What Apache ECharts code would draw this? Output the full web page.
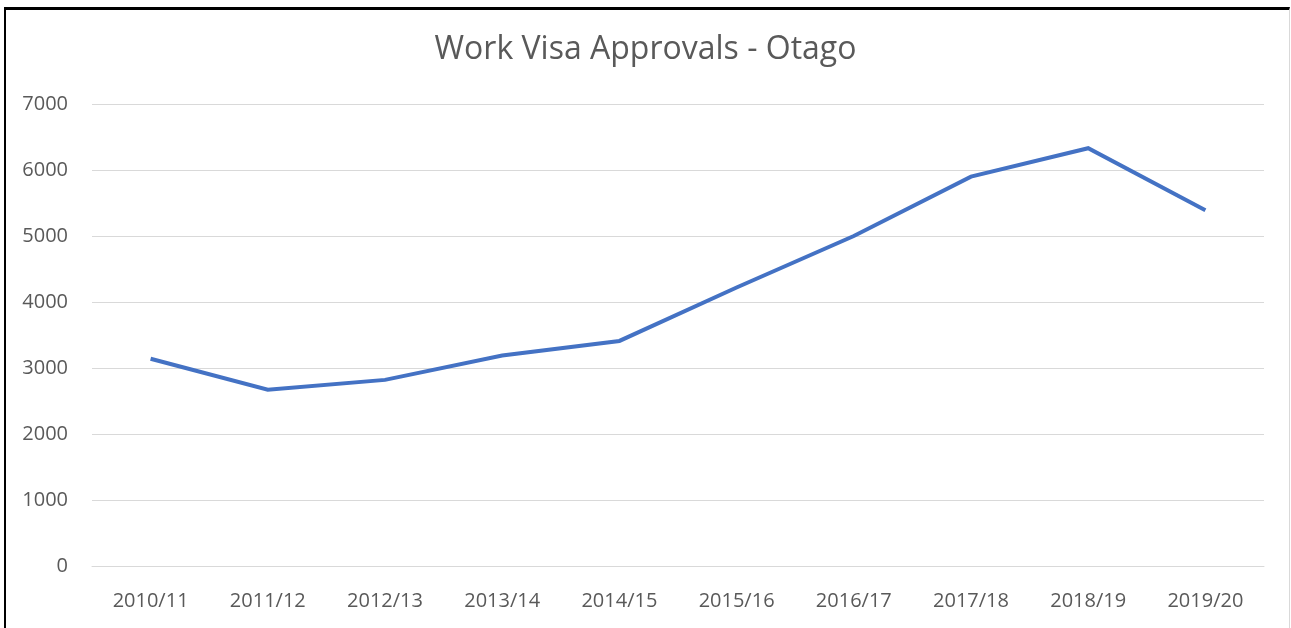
<!DOCTYPE html>
<html>
<head>
<meta charset="utf-8">
<script src="https://cdn.jsdelivr.net/npm/echarts@6/dist/echarts.min.js"></script>
<style>
  html, body { margin: 0; padding: 0; background: #fff; }
  #frame {
    position: absolute; left: 4px; top: 7px; width: 1283px; height: 640px;
    border-left: 2px solid #000; border-top: 3px solid #000; border-right: 1px solid #d9d9d9;
  }
  #root { position: absolute; left: 0; top: 0; width: 1291px; height: 628px; }
</style>
</head>
<body>
<div id="frame"></div>
<div id="root"></div>
<script>
// chart data
var years = ['2010/11', '2011/12', '2012/13', '2013/14', '2014/15',
             '2015/16', '2016/17', '2017/18', '2018/19', '2019/20'];
var approvals = [3140, 2670, 2820, 3190, 3410, 4220, 5000, 5900, 6330, 5390];
var yTicks = [0, 1000, 2000, 3000, 4000, 5000, 6000, 7000];

var font = 'Open Sans';
var myChart = echarts.init(document.getElementById('root'));

var option = {
  animation: false,
  backgroundColor: 'transparent',
  title: {
    text: 'Work Visa Approvals - Otago',
    left: 'center',
    top: 29,
    textStyle: { fontFamily: font, fontSize: 32, fontWeight: 'normal', color: '#595959' }
  },
  grid: { left: 92, right: 27, top: 104, bottom: 62 },
  xAxis: {
    type: 'category',
    data: years,
    boundaryGap: true,
    axisLine: { show: true, lineStyle: { color: '#d9d9d9', width: 1 } },
    axisTick: { show: false },
    axisLabel: { margin: 25, fontFamily: font, fontSize: 20, color: '#595959' }
  },
  yAxis: {
    type: 'value',
    min: yTicks[0],
    max: yTicks[yTicks.length - 1],
    interval: 1000,
    axisLine: { show: false },
    axisTick: { show: false },
    splitLine: { lineStyle: { color: '#d9d9d9', width: 1 } },
    axisLabel: {
      margin: 24, fontFamily: font, fontSize: 20, color: '#595959',
      formatter: function (v) { return String(v); }
    }
  },
  series: [{
    type: 'line',
    data: approvals,
    showSymbol: false,
    symbol: 'none',
    lineStyle: { color: '#4472c4', width: 4, cap: 'butt', join: 'miter' },
    itemStyle: { color: '#4472c4' }
  }]
};

myChart.setOption(option);
window.addEventListener('resize', myChart.resize);
</script>
</body>
</html>
